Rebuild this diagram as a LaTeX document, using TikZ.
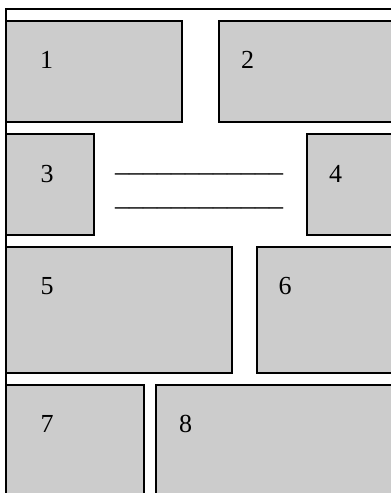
\documentclass[tikz,border=0pt]{standalone}
\usepackage{fontspec}
\setmainfont{Liberation Serif}
\begin{document}
\begin{tikzpicture}[x=1pt, y=-1pt,
    panel/.style={fill=gray!40, draw=black, line width=1.5pt},
    frame edge/.style={line width=1.6pt, black},
    panel label/.style={font=\fontsize{26}{30}\selectfont, inner sep=0pt},
    rule text/.style={font=\fontsize{28}{32}\selectfont, inner sep=0pt, anchor=base west}]

  % === Page area (picture is cut at right and bottom) ===
  \useasboundingbox (0,0) rectangle (391,493);
  \clip (0,0) rectangle (391,493);

  % Outer frame: only top and left edges fall inside the page
  \draw[frame edge] (400,9) -- (6,9) -- (6,500);

  % === Panels: x1/y1/x2/y2/label/label x/label y ===
  \foreach \xa/\ya/\xb/\yb/\lab/\lx/\ly in {
      6/21/182/122/1/46.5/60,
      219/21/400/122/2/247.5/60,
      6/134/94/235/3/47/174,
      307/134/400/235/4/335.5/174,
      6/247/232/373/5/47/286,
      257/247/400/373/6/285/286,
      6/385/144/500/7/47/424,
      156/385/400/500/8/185.5/424} {
    \draw[panel] (\xa,\ya) rectangle (\xb,\yb);
    \node[panel label] (label\lab) at (\lx,\ly) {\lab};
  }

  % === Blank lines between panels 3 and 4 ===
  \node[rule text] (blank1) at (115,171.2) {\_\_\_\_\_\_\_\_\_\_\_\_};
  \node[rule text] (blank2) at (115,205.2) {\_\_\_\_\_\_\_\_\_\_\_\_};

\end{tikzpicture}
\end{document}
